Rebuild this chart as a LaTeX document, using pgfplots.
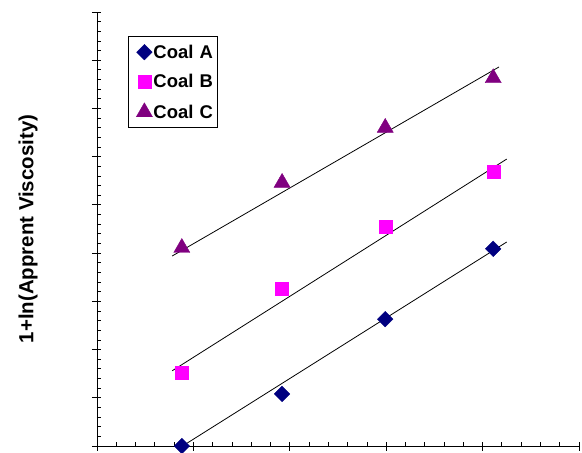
\documentclass[border=0pt]{standalone}
\usepackage{pgfplots}
\pgfplotsset{compat=1.18}
\usepackage{fontspec}
\setmainfont{Liberation Sans}
\definecolor{coalA}{RGB}{0,0,128}
\definecolor{coalB}{RGB}{255,0,255}
\definecolor{coalC}{RGB}{128,0,128}
\begin{document}
\begin{tikzpicture}
\path[use as bounding box] (-97bp,-7bp) rectangle (485bp,446bp);
\begin{axis}[
  at={(0,0)}, anchor=south west,
  scale only axis, width=482bp, height=434bp,
  xmin=0, xmax=5, ymin=0, ymax=9,
  axis lines=left, axis line style={-, line width=0.8bp},
  xtick={0,1,2,3,4,5}, ytick={0,1,2,3,4,5,6,7,8,9},
  xticklabels={}, yticklabels={},
  minor x tick num=4, minor y tick num=4,
  tick align=inside, major tick length=4bp, minor tick length=4bp,
  extra x ticks={0,1,2,3,4,5}, extra y ticks={0,1,2,3,4,5,6,7,8,9},
  extra x tick labels={}, extra y tick labels={},
  extra tick style={tick align=outside, major tick length=5bp},
  tick style={black, line width=0.8bp},
  clip=false,
  ylabel={1+ln(Apprent\ Viscosity)},
  ylabel style={at={(axis description cs:-0.143,0.5)}, anchor=center, font=\fontsize{20.5}{24}\selectfont\bfseries},
  legend style={at={(axis description cs:0.0643,0.9447)}, anchor=north west, draw=black, line width=0.8bp,
     font=\fontsize{18.5}{22}\selectfont\bfseries, row sep=14bp, inner xsep=4bp, inner ysep=8bp,
     nodes={inner xsep=1bp, inner ysep=0bp}},
  legend cell align=left,
  legend image code/.code={\path[draw=none, fill=none] (-12bp,0bp) rectangle (8bp,0.1bp); \draw[#1] plot coordinates {(0bp,0bp)};},
]
\addplot[only marks, mark=square*, mark size=5.5bp, mark options={rotate=45, fill=coalA, draw=coalA, line width=0.4bp}] coordinates {(0.88,0) (1.92,1.08) (2.99,2.63) (4.11,4.09)};
\addlegendentry{Coal\,\,A}
\addplot[only marks, mark=square*, mark size=6.5bp, mark options={fill=coalB, draw=coalB, line width=0.4bp}] coordinates {(0.88,1.51) (1.92,3.26) (2.99,4.54) (4.11,5.68)};
\addlegendentry{Coal\,\,B}
\addplot[only marks, mark=triangle*, mark size=9.3bp, mark options={fill=coalC, draw=coalC, line width=0.4bp}] coordinates {(0.88,4.11) (1.92,5.46) (2.99,6.60) (4.11,7.63)};
\addlegendentry{Coal\,\,C}
\addplot[black, line width=0.8bp, forget plot] coordinates {(0.84,-0.06) (4.25,4.23)};
\addplot[black, line width=0.8bp, forget plot] coordinates {(0.78,1.56) (4.25,5.95)};
\addplot[black, line width=0.8bp, forget plot] coordinates {(0.78,3.94) (4.17,7.86)};
\end{axis}
\end{tikzpicture}
\end{document}
